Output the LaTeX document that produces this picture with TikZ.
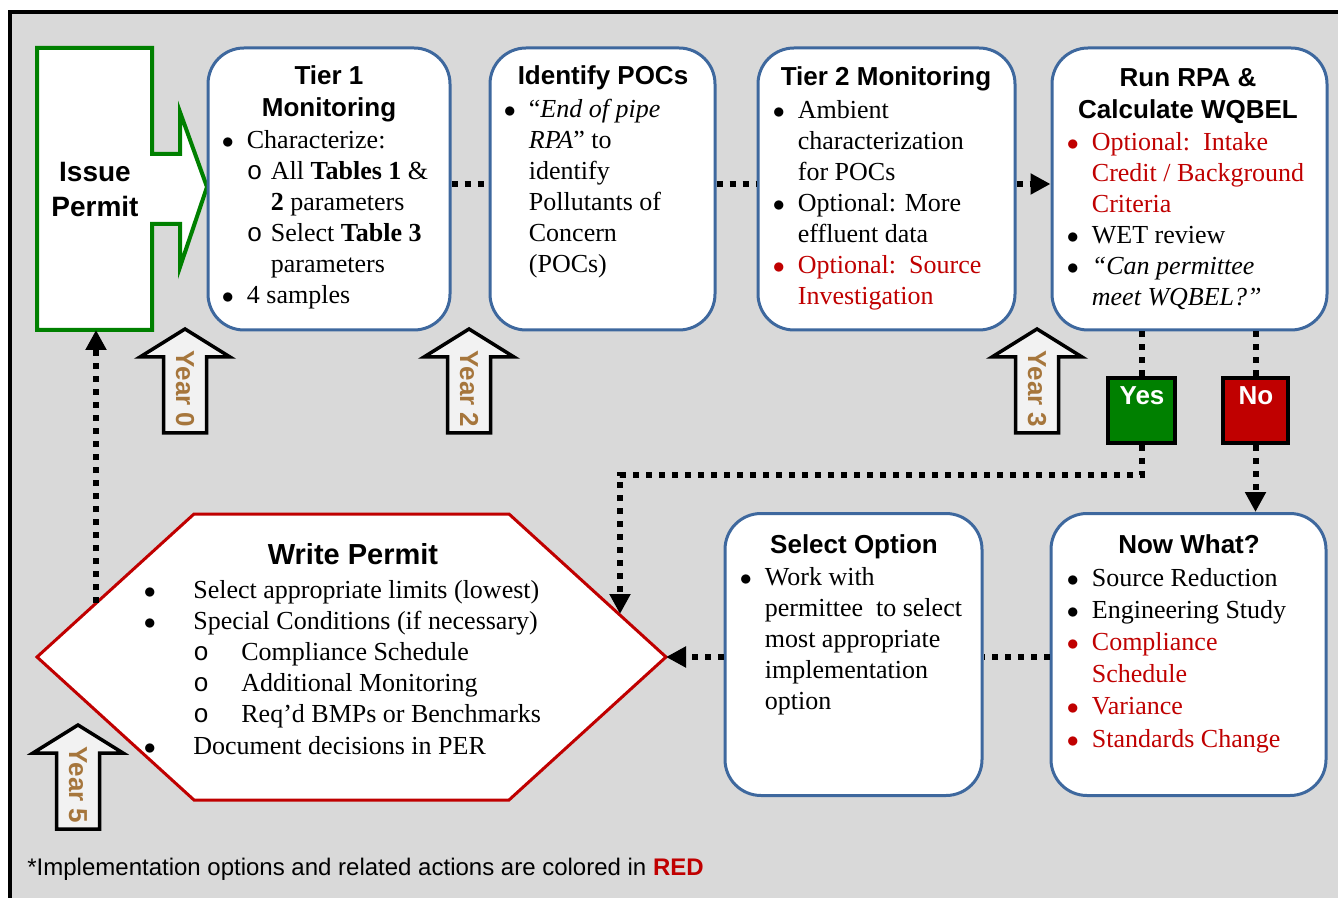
\documentclass[tikz,border=0pt]{standalone}
\usepackage{fontspec}
\setmainfont{Liberation Serif}
\setsansfont{Liberation Sans}
\newfontfamily\monofnt{Liberation Mono}
\usetikzlibrary{arrows.meta}
\definecolor{wgray}{RGB}{217,217,217}
\definecolor{wblue}{RGB}{62,104,158}
\definecolor{wgreen}{RGB}{0,128,0}
\definecolor{wred}{RGB}{192,0,0}
\definecolor{wbrown}{RGB}{166,118,60}
\definecolor{wpale}{RGB}{242,242,242}
\newcommand{\bigdot}{$\bullet$}
\newcommand{\bitem}[1][11.5pt]{\makebox[#1][l]{\hspace{-1pt}\bigdot}}
\newcommand{\citem}[1][12pt]{\makebox[#1][l]{\monofnt o}}
\newcommand{\skipb}[1][11.5pt]{\hspace{#1}}

\begin{document}
\begin{tikzpicture}[x=0.5pt, y=-0.5pt, >={Triangle[length=10pt,width=10pt]},
      rbox/.style={draw=wblue, line width=1.5pt, fill=white, rounded corners=18pt,
        inner sep=0pt, minimum height=141pt},
      ttl/.style={anchor=base, inner sep=0pt, font=\fontsize{13}{16}\selectfont\sffamily\bfseries},
      body/.style={anchor=base west, inner sep=0pt, font=\fontsize{13}{15.5}\selectfont},
      flow/.style={line width=3pt, dash pattern=on 3pt off 3.5pt},
      yarrow/.style={draw=black, fill=wpale, line width=1.75pt},
      ylabel/.style={rotate=-90, inner sep=0pt, text=wbrown, font=\fontsize{13}{15}\selectfont\sffamily\bfseries},
      ynbox/.style={draw=black, line width=1.75pt, minimum height=32.5pt, inner sep=0pt}]
      \useasboundingbox (0,0) rectangle (1338,898);
      \fill[wgray] (10,12) rectangle (1338,898);
      \draw[line width=2pt] (10,898) -- (10,12) -- (1338,12);

      \filldraw[draw=wgreen, fill=white, line width=2pt] (37,48) -- (152,48) -- (152,154) -- (180,154)
        -- (180,112) -- (207,187) -- (180,267) -- (180,224) -- (152,224) -- (152,330) -- (37,330) -- cycle;
      \coordinate (ip-s) at (96,330);
      \node[ttl, font=\fontsize{14}{17.5}\selectfont\sffamily\bfseries] (issue) at (95,182)
        {\begin{tabular}[t]{@{}c@{}}Issue\\Permit\end{tabular}};

      \node[rbox, minimum width=121pt] (tier1) at (329,189) {};
      \node[rbox, minimum width=112.5pt] (pocs) at (602.5,189) {};
      \node[rbox, minimum width=128.5pt] (tier2) at (886.5,189) {};
      \node[rbox, minimum width=137.5pt] (rpa) at (1189.5,189) {};
      \node[rbox, minimum width=128.5pt] (select) at (853.5,654.5) {};
      \node[rbox, minimum width=137.5pt] (nowhat) at (1188.5,654.5) {};

      \node[ttl] (tier1-ttl) at (329,85) {\begin{tabular}[t]{@{}c@{}}Tier 1\\Monitoring\end{tabular}};
      \node[body] (tier1-txt) at (223.5,149) {\begin{tabular}[t]{@{}l@{}}
        \bitem Characterize:\\
        \skipb\citem All \textbf{Tables 1} \&\\
        \skipb\skipb[12pt]\textbf{2} parameters\\
        \skipb\citem Select \textbf{Table 3}\\
        \skipb\skipb[12pt]parameters\\
        \bitem 4 samples\end{tabular}};

      \node[ttl] (pocs-ttl) at (603,85) {Identify POCs};
      \node[body] (pocs-txt) at (505.5,118) {\begin{tabular}[t]{@{}l@{}}
        \bitem “\textit{End of pipe}\\
        \skipb\textit{RPA}” to\\
        \skipb identify\\
        \skipb Pollutants of\\
        \skipb Concern\\
        \skipb (POCs)\end{tabular}};

      \node[ttl] (tier2-ttl) at (886,86) {Tier 2 Monitoring};
      \node[body] (tier2-txt) at (774.5,119) {\begin{tabular}[t]{@{}l@{}}
        \bitem Ambient\\
        \skipb characterization\\
        \skipb for POCs\\
        \bitem Optional: More\\
        \skipb effluent data\\
        \color{wred}\bitem Optional:\ \ Source\\
        \color{wred}\skipb Investigation\end{tabular}};

      \node[ttl] (rpa-ttl) at (1188,87) {\begin{tabular}[t]{@{}c@{}}Run RPA \&\\Calculate WQBEL\end{tabular}};
      \node[body] (rpa-txt) at (1068.5,151) {\begin{tabular}[t]{@{}l@{}}
        \color{wred}\bitem Optional:\ \ Intake\\
        \color{wred}\skipb Credit / Background\\
        \color{wred}\skipb Criteria\\
        \bitem WET review\\
        \bitem\textit{“Can permittee}\\
        \skipb\textit{meet WQBEL?”}\end{tabular}};

      \node[ttl] (select-ttl) at (854,553) {Select Option};
      \node[body] (select-txt) at (741.5,585) {\begin{tabular}[t]{@{}l@{}}
        \bitem Work with\\
        \skipb permittee\ \ to select\\
        \skipb most appropriate\\
        \skipb implementation\\
        \skipb option\end{tabular}};

      \node[ttl] (nowhat-ttl) at (1189,553) {Now What?};
      \node[body, font=\fontsize{13}{16.1}\selectfont] (nowhat-txt) at (1068.5,586) {\begin{tabular}[t]{@{}l@{}}
        \bitem Source Reduction\\
        \bitem Engineering Study\\
        \color{wred}\bitem Compliance\\
        \color{wred}\skipb Schedule\\
        \color{wred}\bitem Variance\\
        \color{wred}\bitem Standards Change\end{tabular}};

      \filldraw[draw=wred, fill=white, line width=1.5pt] (37,657) coordinate (wp-w) -- (194,514) -- (509,514)
        -- (666,657) coordinate (wp-e) -- (509,800) -- (194,800) -- cycle;
      \coordinate (wp-up) at (96,603);
      \coordinate (wp-in) at (620,614);
      \node[ttl, font=\fontsize{14.5}{17}\selectfont\sffamily\bfseries] (write-ttl) at (353,564) {Write Permit};
      \node[body, font=\fontsize{13}{15.6}\selectfont] (write-txt) at (145.5,598) {\begin{tabular}[t]{@{}l@{}}
        \bitem[23.75pt]Select appropriate limits (lowest)\\
        \bitem[23.75pt]Special Conditions (if necessary)\\
        \skipb[23.75pt]\citem[24pt]Compliance Schedule\\
        \skipb[23.75pt]\citem[24pt]Additional Monitoring\\
        \skipb[23.75pt]\citem[24pt]Req’d BMPs or Benchmarks\\
        \bitem[23.75pt]Document decisions in PER\end{tabular}};

      \foreach \ax/\at/\yr in {185/329/0, 469/329/2, 1037/329/3, 78/725/5}{
        \draw[yarrow] (\ax,\at) -- ++(45,28) -- ++(-23.5,0) -- ++(0,76) -- ++(-43,0) -- ++(0,-76)
          -- ++(-23.5,0) -- cycle;
        \node[ylabel] (year\yr) at (\ax,\at+60) {Year \yr};
      }

      \node[ynbox, fill=wgreen, minimum width=33.5pt] (yes) at (1141.5,410.5) {};
      \node[ynbox, fill=wred, minimum width=32.5pt] (no) at (1255.5,410.5) {};
      \node[ttl, text=white] (yes-l) at (1142,405) {Yes};
      \node[ttl, text=white] (no-l) at (1256,405) {No};

      \draw[flow] ([yshift=2.5pt]tier1.east) -- ([yshift=2.5pt]pocs.west);
      \draw[flow] ([yshift=2.5pt]pocs.east) -- ([yshift=2.5pt]tier2.west);
      \draw[flow,->] ([yshift=2.5pt]tier2.east) -- ([yshift=2.5pt]rpa.west);
      \draw[flow] (yes.north |- rpa.south) -- (yes.north);
      \draw[flow] (no.north |- rpa.south) -- (no.north);
      \draw[flow,->] (yes.south) -- ++(0,30) -| (wp-in);
      \draw[flow,->] (no.south) -- (no.south |- nowhat.north);
      \draw[flow] (nowhat.west |- wp-e) -- (select.east |- wp-e);
      \draw[flow,->] (select.west |- wp-e) -- (wp-e);
      \draw[flow,->] (wp-up) -- (ip-s);

      \node[anchor=base west, inner sep=0pt, font=\fontsize{12}{14}\selectfont\sffamily] (note) at (27,875)
        {*Implementation options and related actions are colored in \textcolor{wred}{\textbf{RED}}};
    \end{tikzpicture}
\end{document}
